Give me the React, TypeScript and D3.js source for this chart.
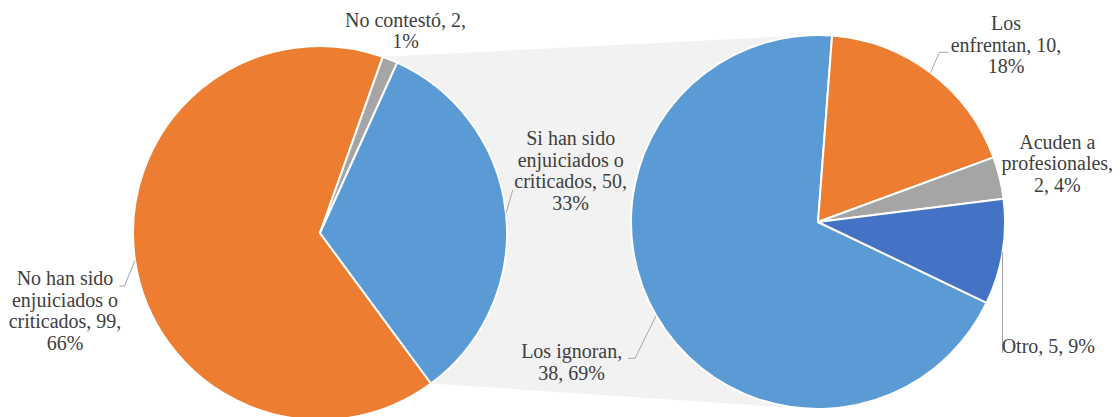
import React from "react";
import * as d3 from "d3";

// ---- data ----
const mainCategories = [
  "No han sido enjuiciados o criticados",
  "No contestó",
  "Si han sido enjuiciados o criticados",
];
const mainValues = [99, 2, 50];
const mainColors = ["#ED7D31", "#A5A5A5", "#5B9BD5"];

const subCategories = ["Los ignoran", "Los enfrentan", "Acuden a profesionales", "Otro"];
const subValues = [38, 10, 2, 5];
const subColors = ["#5B9BD5", "#ED7D31", "#A5A5A5", "#4472C4"];

// ---- layout ----
const W = 1120;
const H = 417;
const deg = Math.PI / 180;
const MAIN = { cx: 320, cy: 233, r: 187, start: -216.4 * deg };
const SUB = { cx: 818, cy: 222, r: 187, start: -244.4 * deg };
const FONT = "'Liberation Serif', 'DejaVu Serif', serif";
const FS = 20;
const LH = 21.7;
const TEXT = "#404040";
const LEADER = "#A6A6A6";

type LabelLayout = { x: number; y: number; wrap: number[]; leader: [number, number][] };
const mainLabels: LabelLayout[] = [
  { x: 65, y: 285, wrap: [3, 2, 2, 1], leader: [[119.3, 286], [124.5, 286]] },
  { x: 405.5, y: 26.7, wrap: [3, 1], leader: [] },
  { x: 570.7, y: 145, wrap: [3, 2, 2, 1], leader: [[512.7, 190]] },
];
const subLabels: LabelLayout[] = [
  { x: 571.7, y: 358.3, wrap: [2, 2], leader: [[628.3, 358.3], [635, 358.3]] },
  { x: 1006, y: 30, wrap: [1, 2, 1], leader: [[948.3, 52.3], [939.3, 52.3]] },
  { x: 1057.3, y: 148.5, wrap: [2, 1, 2], leader: [] },
  { x: 1048.3, y: 353.3, wrap: [3], leader: [[1002.5, 353]] },
];

const pt = (c: { cx: number; cy: number }, r: number, a: number): [number, number] => [
  c.cx + r * Math.sin(a),
  c.cy - r * Math.cos(a),
];

function tangent(p: [number, number], c: { cx: number; cy: number; r: number }, sign: number): [number, number] {
  const dx = p[0] - c.cx;
  const dy = p[1] - c.cy;
  const d = Math.hypot(dx, dy);
  const th = Math.atan2(dy, dx);
  const al = Math.acos(c.r / d);
  const a = th + sign * al;
  return [c.cx + c.r * Math.cos(a), c.cy + c.r * Math.sin(a)];
}

function wrapLines(text: string, wrap: number[]): string[] {
  const words = text.split(" ");
  const out: string[] = [];
  let i = 0;
  for (const n of wrap) {
    out.push(words.slice(i, i + n).join(" "));
    i += n;
  }
  if (i < words.length) out[out.length - 1] += " " + words.slice(i).join(" ");
  return out;
}

function PieGroup({
  geo,
  cats,
  vals,
  colors,
  labels,
}: {
  geo: { cx: number; cy: number; r: number; start: number };
  cats: string[];
  vals: number[];
  colors: string[];
  labels: LabelLayout[];
}) {
  const total = d3.sum(vals);
  const arcs = d3
    .pie<number>()
    .sort(null)
    .startAngle(geo.start)
    .endAngle(geo.start + 2 * Math.PI)(vals);
  const arcGen = d3.arc<d3.PieArcDatum<number>>().innerRadius(0).outerRadius(geo.r);
  return (
    <g>
      <g transform={`translate(${geo.cx},${geo.cy})`}>
        {arcs.map((a, i) => (
          <path key={i} d={arcGen(a) || ""} fill={colors[i]} stroke="#FFFFFF" strokeWidth={2} strokeLinejoin="round" />
        ))}
      </g>
      {arcs.map((a, i) => {
        const L = labels[i];
        if (!L.leader.length) return null;
        const mid = (a.startAngle + a.endAngle) / 2;
        const pts = [...L.leader, pt(geo, geo.r, mid)];
        return (
          <path
            key={"l" + i}
            d={d3.line()(pts) || ""}
            fill="none"
            stroke={LEADER}
            strokeWidth={1}
          />
        );
      })}
      {arcs.map((a, i) => {
        const L = labels[i];
        const pct = Math.round((vals[i] / total) * 100);
        const lines = wrapLines(`${cats[i]}, ${vals[i]}, ${pct}%`, L.wrap);
        return (
          <text key={"t" + i} x={L.x} y={L.y} textAnchor="middle" fontFamily={FONT} fontSize={FS} fill={TEXT}>
            {lines.map((s, j) => (
              <tspan key={j} x={L.x} y={L.y + j * LH}>
                {s}
              </tspan>
            ))}
          </text>
        );
      })}
    </g>
  );
}

export default function App() {
  const mainArcs = d3
    .pie<number>()
    .sort(null)
    .startAngle(MAIN.start)
    .endAngle(MAIN.start + 2 * Math.PI)(mainValues);
  // connector band: from start of the "No contestó" slice / end of the split slice to the secondary pie
  const pTop = pt(MAIN, MAIN.r, mainArcs[1].startAngle);
  const pBot = pt(MAIN, MAIN.r, mainArcs[2].endAngle);
  const tTop = tangent(pTop, SUB, 1);
  const tBot = tangent(pBot, SUB, -1);
  const band = d3.line()([pTop, tTop, tBot, pBot]) + "Z";

  return (
    <svg
      width={W}
      height={H}
      viewBox={`0 0 ${W} ${H}`}
      style={{ position: "absolute", left: 0, top: 0, background: "#FFFFFF", overflow: "hidden" }}
    >
      <rect x={0} y={0} width={W} height={H} fill="#FFFFFF" />
      <path d={band} fill="#F2F2F2" stroke="none" />
      <PieGroup geo={MAIN} cats={mainCategories} vals={mainValues} colors={mainColors} labels={mainLabels} />
      <PieGroup geo={SUB} cats={subCategories} vals={subValues} colors={subColors} labels={subLabels} />
    </svg>
  );
}
